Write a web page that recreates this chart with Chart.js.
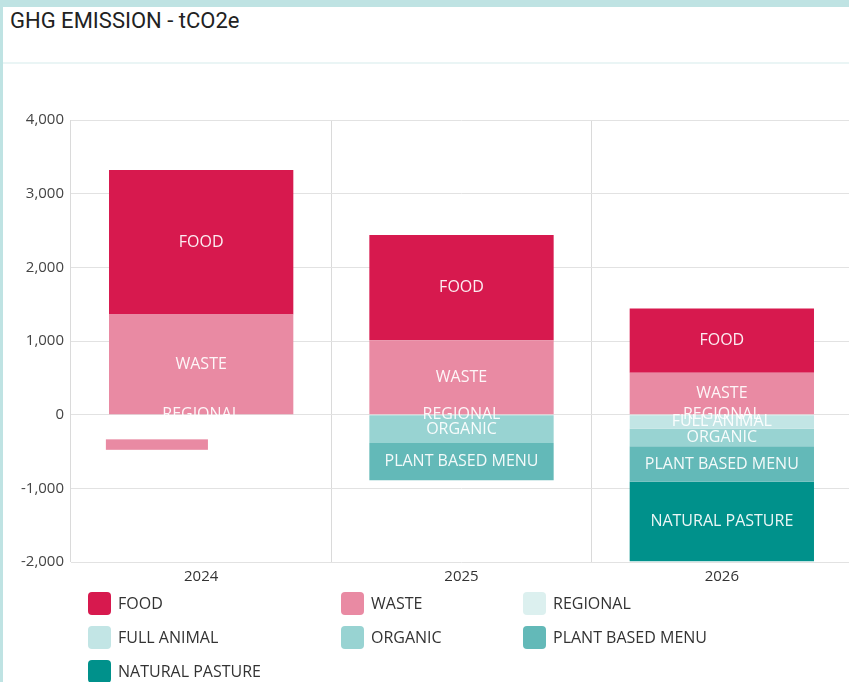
<!DOCTYPE html>
<html lang="en">
<head>
  <meta charset="UTF-8" />
  <title>GHG EMISSION - tCO2e</title>
  <script src="https://cdn.jsdelivr.net/npm/chart.js"></script>
  <style>
    html, body { margin: 0; padding: 0; }
    body { width: 849px; height: 682px; overflow: hidden; background: #bfe3e3; font-family: "Open Sans", sans-serif; }
    .card { position: absolute; left: 3px; top: 7px; width: 860px; height: 690px; background: #fff; }
    .title { position: absolute; left: 10px; top: 10px; font: 22px/22px Roboto, sans-serif; color: #222; }
    .sep { position: absolute; left: 3px; top: 62px; width: 860px; height: 2px; background: #eaf5f5; }
    .chart-box { position: absolute; left: 0; top: 100px; width: 852px; height: 492px; }
    #legend { position: absolute; left: 88px; top: 591px; display: grid; grid-template-columns: 253px 182px auto; row-gap: 10px; }
    .item { display: flex; align-items: center; height: 24px; font-size: 16px; color: #333; }
    .box { width: 23px; height: 23px; border-radius: 4px; margin-right: 7px; }
  </style>
</head>
<body>
  <div class="card"></div>
  <div class="title">GHG EMISSION - tCO2e</div>
  <div class="sep"></div>
  <div class="chart-box"><canvas id="ghg"></canvas></div>
  <div id="legend"></div>

  <script>
    const years = ['2024', '2025', '2026'];
    const seriesNames = ['FOOD', 'WASTE', 'REGIONAL', 'FULL ANIMAL', 'ORGANIC', 'PLANT BASED MENU', 'NATURAL PASTURE'];
    const seriesColors = ['#d7194e', '#e98aa3', '#dcf0ef', '#c2e5e5', '#98d3d2', '#63b9b8', '#00918b'];
    const food = [1960, 1430, 870];
    const waste = [1360, 1010, 570];
    const regional = [0, 0, 0];
    const fullAnimal = [null, null, -190];
    const organic = [null, -385, -240];
    const plantBased = [null, -505, -480];
    const naturalPasture = [null, null, -1080];
    // leftover waste sliver under the 2024 column (value range, category position)
    const sliverRange = [-477, -335];
    const sliverAt = -0.17;
    const yTicks = [-2000, -1000, 0, 1000, 2000, 3000, 4000];

    const seriesValues = [food, waste, regional, fullAnimal, organic, plantBased, naturalPasture];
    // order in which the series pile up from zero (waste sits under food)
    const stackOrder = [2, 1, 0, 3, 4, 5, 6];

    const datasets = stackOrder.map(i => ({
      label: seriesNames[i],
      data: seriesValues[i],
      backgroundColor: seriesColors[i],
      borderWidth: 0,
      categoryPercentage: 1,
      barPercentage: 0.708
    }));

    // the sliver is painted through the chart's own scales, under the bars
    const sliver = {
      id: 'sliver',
      beforeDatasetsDraw(chart) {
        const x = chart.scales.x, y = chart.scales.y;
        const half = (x.getPixelForValue(1) - x.getPixelForValue(0)) * 0.196;
        const cx = x.getPixelForValue(sliverAt);
        const top = y.getPixelForValue(sliverRange[1]);
        const bottom = y.getPixelForValue(sliverRange[0]);
        chart.ctx.save();
        chart.ctx.fillStyle = seriesColors[1];
        chart.ctx.fillRect(cx - half, top, half * 2, bottom - top);
        chart.ctx.restore();
      }
    };

    const barLabels = {
      id: 'barLabels',
      afterDatasetsDraw(chart) {
        const ctx = chart.ctx;
        ctx.save();
        ctx.font = '16px "Open Sans"';
        ctx.fillStyle = 'rgba(255,255,255,0.92)';
        ctx.textAlign = 'center';
        ctx.textBaseline = 'middle';
        chart.data.datasets.forEach((ds, di) => {
          chart.getDatasetMeta(di).data.forEach((bar, j) => {
            if (ds.data[j] === null) return;
            ctx.fillText(ds.label, bar.x, (bar.y + bar.base) / 2);
          });
        });
        ctx.restore();
      }
    };

    new Chart(document.getElementById('ghg'), {
      type: 'bar',
      data: { labels: years, datasets: datasets },
      options: {
        responsive: true,
        maintainAspectRatio: false,
        animation: false,
        layout: { padding: { top: 20, right: 0, bottom: 0, left: 0 } },
        plugins: { legend: { display: false }, tooltip: { enabled: false } },
        scales: {
          x: {
            stacked: true,
            offset: true,
            grid: { offset: true, color: '#dadada', drawTicks: false },
            border: { display: false },
            ticks: { padding: 6, color: '#333', font: { family: 'Open Sans', size: 15 } }
          },
          y: {
            stacked: true,
            min: -2000,
            max: 4000,
            afterFit(scale) { scale.width = 71; },
            afterBuildTicks(scale) { scale.ticks = yTicks.map(v => ({ value: v })); },
            grid: { color: '#e2e2e2', drawTicks: false },
            border: { display: false },
            ticks: {
              padding: 7,
              color: '#444',
              font: { family: 'Open Sans', size: 15 },
              callback: v => v.toLocaleString('en-US')
            }
          }
        }
      },
      plugins: [sliver, barLabels]
    });

    const legend = document.getElementById('legend');
    seriesNames.forEach((name, i) => {
      const item = document.createElement('div');
      item.className = 'item';
      item.innerHTML = '<span class="box" style="background:' + seriesColors[i] + '"></span>' + name;
      legend.appendChild(item);
    });
  </script>
</body>
</html>
